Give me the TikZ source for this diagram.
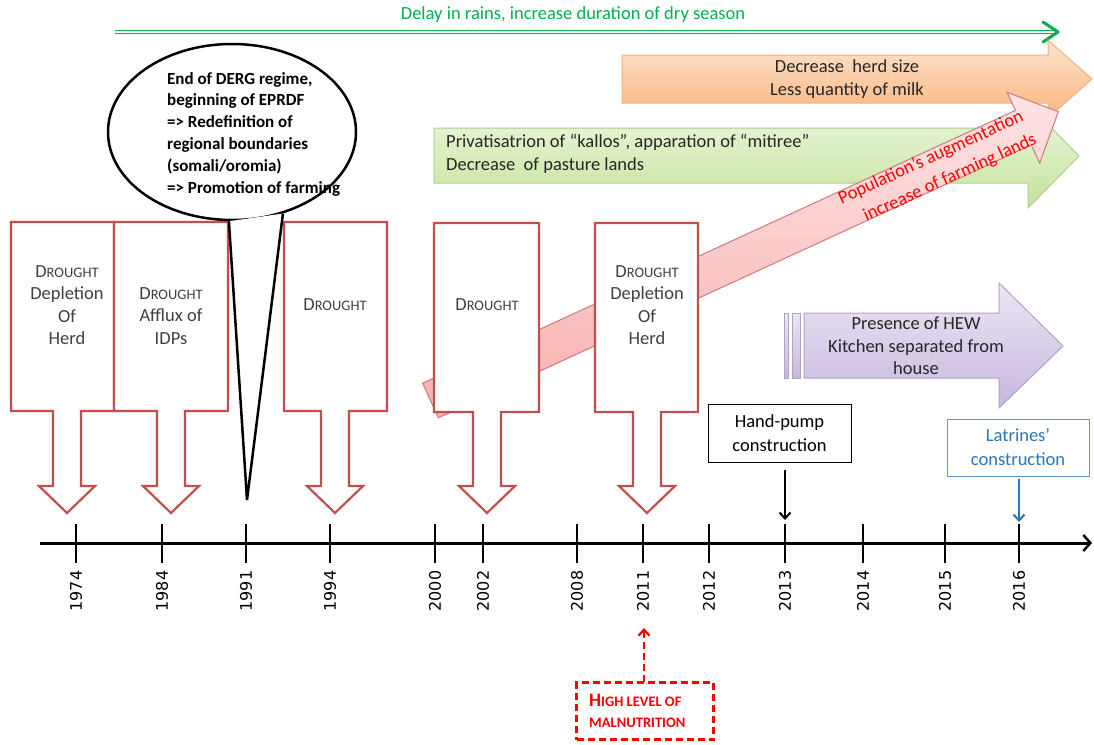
\documentclass[tikz,border=0pt]{standalone}
\usepackage{fontspec}
\setmainfont{Carlito}
\newfontfamily\yearfont{DejaVu Sans}
\usetikzlibrary{arrows.meta,shapes.geometric,calc}
\definecolor{dred}{HTML}{C0504D}
\definecolor{txtgray}{HTML}{404040}
\definecolor{txtdark}{HTML}{262626}
\definecolor{topgreen}{HTML}{00B050}
\definecolor{orA}{HTML}{FDE4CE}
\definecolor{orB}{HTML}{F9B57E}
\definecolor{orD}{HTML}{F4B183}
\definecolor{gnA}{HTML}{EEF7E1}
\definecolor{gnB}{HTML}{C4E39B}
\definecolor{gnD}{HTML}{A9D18E}
\definecolor{pkA}{HTML}{FFE4E4}
\definecolor{pkB}{HTML}{F7AFAF}
\definecolor{pkD}{HTML}{D07A78}
\definecolor{puA}{HTML}{ECE6F3}
\definecolor{puB}{HTML}{C7B7DF}
\definecolor{puD}{HTML}{B3A2C7}
\definecolor{latblue}{HTML}{2E75B6}
\definecolor{latborder}{HTML}{5B9BD5}
\newcommand\droughtshape[5]{%
  \draw[drought] (#1,#4) -- (#2,#4) -- (#2,#5) -- (#3+14,#5) -- (#3+14,486) -- (#3+28,486) -- (#3,513) -- (#3-28,486) -- (#3-14,486) -- (#3-14,#5) -- (#1,#5) -- cycle;}
\newcommand\smc[1]{{\fontsize{14.5}{22.5}\selectfont #1}}
\begin{document}
\begin{tikzpicture}[x=1pt,y=-1pt,
  drought/.style={draw=dred, line width=2.2pt, fill=white, line join=miter},
  dtext/.style={text=txtgray, align=center, font=\fontsize{18.5}{22.5}\selectfont, inner sep=0pt},
  atext/.style={text=txtdark, align=center, font=\fontsize{18.5}{22.5}\selectfont, inner sep=0pt},
  ticky/.style={line width=2.2pt, black},
  year/.style={font=\yearfont\fontsize{16}{16}\selectfont, rotate=90, inner sep=0pt},
  evbox/.style={draw, line width=1pt, fill=white, align=center, font=\fontsize{18.5}{24}\selectfont, inner sep=0pt},
  poptext/.style={text=red, rotate=24.7, font=\fontsize{18.5}{20}\selectfont, inner sep=0pt},
]
\useasboundingbox (0,0) rectangle (1094,744);
\fill[white] (0,0) rectangle (1094,744);

% top green double arrow
\node[text=topgreen, font=\fontsize{18.5}{20}\selectfont, inner sep=0pt] (delay) at (573,15) {Delay in rains, increase duration of dry season};
\coordinate (dryA) at (115,32);
\coordinate (dryB) at (1058,32);
\draw[topgreen, line width=1.3pt, double=white, double distance=1.4pt] (dryA) -- (dryB);
\draw[topgreen, line width=3pt, line cap=round, line join=round] ($(dryB)+(-15,-10)$) -- (dryB) -- ($(dryB)+(-15,10)$);

% orange arrow
\draw[draw=orD, line width=1pt, top color=orA, bottom color=orB] (622,55) -- (1048,55) -- (1048,40) -- (1092,79) -- (1048,118) -- (1048,103) -- (622,103) -- cycle;
\node[atext] (herd) at (847,79) {Decrease\ \ herd size\\Less quantity of milk};

% light green arrow
\draw[draw=gnD, line width=1pt, top color=gnA, bottom color=gnB] (434,128) -- (1028,128) -- (1028,104) -- (1079,156) -- (1028,208) -- (1028,183) -- (434,183) -- cycle;
\node[atext, align=left, anchor=west] (pasture) at (446,154) {Privatisatrion of “kallos”, apparation of “mitiree”\\Decrease\ \ of pasture lands};

% pink diagonal arrow
\draw[draw=pkD, line width=1pt, top color=pkA, bottom color=pkB] (422.6,383.2) -- (1015.5,110.4) -- (1007.1,92.3) -- (1058.3,111.7) -- (1039.7,163.1) -- (1031.3,145.0) -- (438.4,417.8) -- cycle;
\node[poptext] (pop1) at (931,158) {Population’s augmentation};
\node[poptext] (pop2) at (950,178) {increase of farming lands};

% purple arrow
\draw[draw=puD, line width=1pt, top color=puA, bottom color=puB] (784,313) rectangle (788,378);
\draw[draw=puD, line width=1pt, top color=puA, bottom color=puB] (792,313) rectangle (800,378);
\draw[draw=puD, line width=1pt, top color=puA, bottom color=puB] (804,313) -- (999,313) -- (999,283) -- (1063,346) -- (999,408) -- (999,378) -- (804,378) -- cycle;
\node[atext] (hew) at (916,346) {Presence of HEW\\Kitchen separated from\\house};

% drought arrows
\droughtshape{11}{114}{67}{222}{411}
\droughtshape{114}{228}{171}{222}{411}
\droughtshape{284}{387}{335}{222}{411}
\droughtshape{434}{539}{487}{223}{412}
\droughtshape{595}{698}{647}{223}{412}
\node[dtext] (d1974) at (67,305) {D\smc{ROUGHT}\\Depletion\\Of\\Herd};
\node[dtext] (d1984) at (171,316) {D\smc{ROUGHT}\\Afflux of\\IDPs};
\node[dtext] (d1994) at (335,305) {D\smc{ROUGHT}};
\node[dtext] (d2002) at (487,305) {D\smc{ROUGHT}};
\node[dtext] (d2011) at (647,305) {D\smc{ROUGHT}\\Depletion\\Of\\Herd};

% callout 1991
\node[ellipse, draw, fill=white, line width=2.5pt, minimum width=248pt, minimum height=176pt, inner sep=0pt] (callout) at (232,132) {};
\coordinate (ctip) at (247,500);
\fill[white] (callout.268) -- (callout.302) -- (ctip) -- cycle;
\draw[line width=2.5pt, line join=miter] (callout.268) -- (ctip) -- (callout.302);
\node[text=black, align=left, anchor=north west, font=\bfseries\fontsize{17}{21.8}\selectfont, inner sep=0pt] (derg) at (167,72) {End of DERG regime,\\beginning of EPRDF\\=> Redefinition of\\regional boundaries\\(somali/oromia)\\=> Promotion of farming};

% hand-pump and latrines
\node[evbox, draw=black, minimum width=143pt, minimum height=58pt] (pump) at (779.5,433) {Hand-pump\\construction};
\coordinate (pumpA) at (785,470);
\coordinate (pumpB) at (785,520);
\draw[line width=2pt, -{Straight Barb[length=6pt,width=11pt,line width=2pt]}] (pumpA) -- (pumpB);
\node[evbox, draw=latborder, text=latblue, minimum width=142pt, minimum height=57pt] (latr) at (1018,447.5) {Latrines’\\construction};
\coordinate (latA) at (1019,479);
\coordinate (latB) at (1019,522);
\draw[latblue, line width=2pt, -{Straight Barb[length=6pt,width=11pt,line width=2pt]}] (latA) -- (latB);

% timeline
\coordinate (axL) at (40,543);
\coordinate (axR) at (1092,543);
\draw[line width=3pt, -{Straight Barb[length=7pt,width=16pt,line width=2.5pt]}] (axL) -- (axR);
\foreach \yr/\xx in {1974/76,1984/162,1991/246,1994/330,2000/435,2002/483,2008/577,2011/643,2012/709,2013/785,2014/863,2015/945,2016/1019}{
  \draw[ticky] (\xx,524) -- (\xx,563);
  \node[year] (y\yr) at (\xx,591) {\yr};
}

% malnutrition
\node[draw=red, dashed, dash pattern=on 7pt off 4pt, line width=2.5pt, minimum width=137pt, minimum height=57pt, inner sep=0pt] (mal) at (645,711) {};
\node[text=red, align=left, anchor=west, font=\bfseries\fontsize{19}{21}\selectfont, inner sep=0pt] (maltext) at (589,711) {H{\fontsize{14.5}{21}\selectfont IGH LEVEL OF}\\{\fontsize{14.5}{21}\selectfont MALNUTRITION}};
\coordinate (malA) at (644,682);
\coordinate (malB) at (644,628);
\draw[red, line width=2.5pt, dash pattern=on 7pt off 4pt, -{Straight Barb[length=6pt,width=11pt,line width=2.2pt]}] (malA) -- (malB);
\end{tikzpicture}
\end{document}
